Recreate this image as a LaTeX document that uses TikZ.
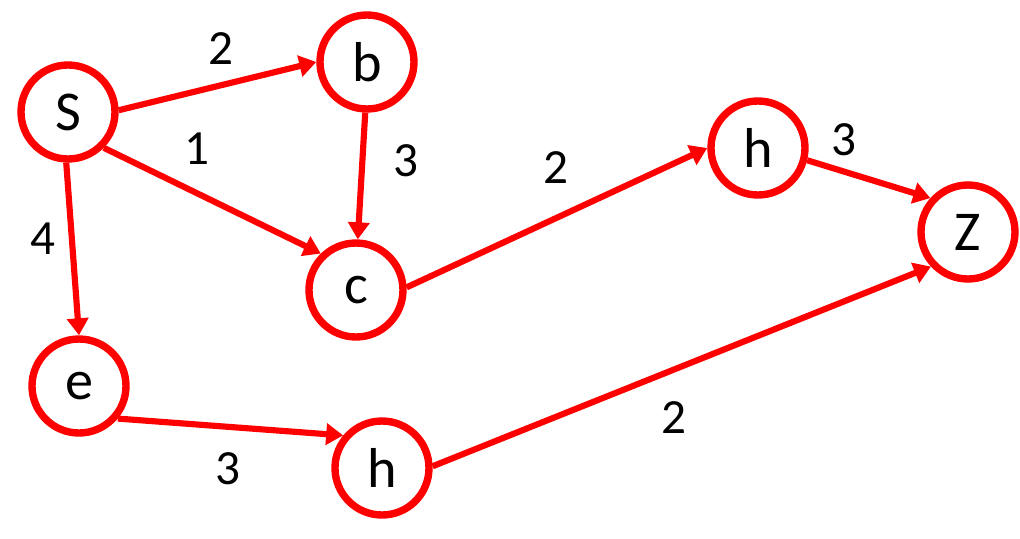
\documentclass[tikz,border=0pt]{standalone}
\usepackage{fontspec}
\setmainfont{Carlito}
\usepackage{tikz}
\usetikzlibrary{arrows.meta}

\tikzset{
  vertex/.style={circle, draw=red, line width=4.2pt, minimum size=1.88cm, inner sep=0pt, font=\fontsize{32}{32}\selectfont},
  link/.style={draw=red, line width=3.5pt, -{Triangle[length=0.34cm, width=0.42cm]}},
  weight/.style={font=\fontsize{28}{28}\selectfont}
}

\begin{document}
\begin{tikzpicture}
\useasboundingbox (0,0) rectangle (20.4,-10.76);
\node [vertex] (S) at (1.36,-2.24) {S};
\node [vertex] (b) at (7.34,-1.24) {b};
\node [vertex] (c) at (7.12,-5.80) {c};
\node [vertex] (h1) at (15.16,-2.96) {h};
\node [vertex] (Z) at (19.36,-4.64) {Z};
\node [vertex] (e) at (1.58,-7.72) {e};
\node [vertex] (h2) at (7.64,-9.36) {h};
\draw [link] (S.2) -- (b.180);
\draw [link] (S.-45) -- (c.134);
\draw [link] (S.-92) -- (e.90);
\draw [link] (b.-92) -- (c.88);
\draw [link] (c.3) -- (h1.180);
\draw [link] (h1.-14) -- (Z.138);
\draw [link] (e.-40) -- (h2.140);
\draw [link] (h2.2) -- (Z.-137);
\node [weight] (wSb) at (4.42,-0.98) {2};
\node [weight] (wSc) at (3.94,-2.98) {1};
\node [weight] (wbc) at (8.12,-3.22) {3};
\node [weight] (wch) at (11.12,-3.36) {2};
\node [weight] (whZ) at (16.88,-2.80) {3};
\node [weight] (wSe) at (0.86,-4.78) {4};
\node [weight] (weh) at (4.56,-9.38) {3};
\node [weight] (whz) at (13.48,-8.36) {2};
\end{tikzpicture}
\end{document}
